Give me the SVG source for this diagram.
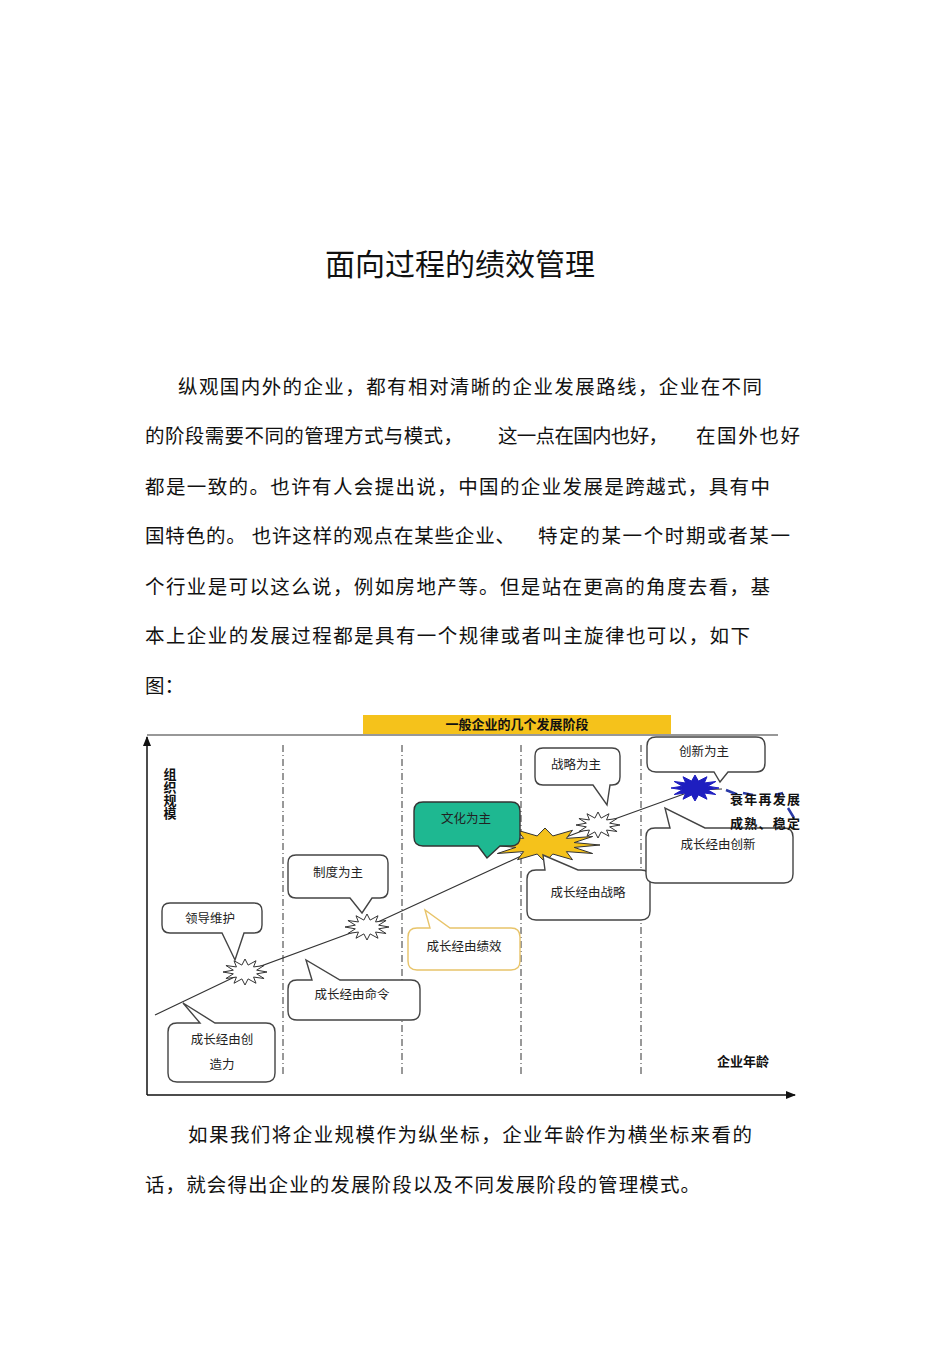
<svg xmlns="http://www.w3.org/2000/svg" width="950" height="1345" viewBox="0 0 950 1345">
<style>
.p{font-family:"Noto Sans CJK SC","Liberation Sans",sans-serif;font-size:19.5px;fill:#111}
.c{font-family:"Noto Sans CJK SC",sans-serif;font-size:12.5px;fill:#222;text-anchor:middle}
.b{font-family:"Noto Sans CJK SC",sans-serif;font-size:13px;font-weight:bold;fill:#111}
.call{fill:#fff;stroke:#444;stroke-width:1.4}
.dash{stroke:#333;stroke-width:1;stroke-dasharray:7 3 1 3}
</style>
<defs>
<polygon id="star" vector-effect="non-scaling-stroke" stroke-width="1" points="1,0 .531,.142 .866,.5 .389,.389 .5,.866 .142,.531 0,1 -.142,.531 -.5,.866 -.389,.389 -.866,.5 -.531,.142 -1,0 -.531,-.142 -.866,-.5 -.389,-.389 -.5,-.866 -.142,-.531 0,-1 .142,-.531 .5,-.866 .389,-.389 .866,-.5 .531,-.142"/>
<marker id="ah" markerWidth="10" markerHeight="8" refX="9" refY="4" orient="auto" markerUnits="userSpaceOnUse"><path d="M0,0 L10,4 L0,8 Z" fill="#111"/></marker>
</defs>
<rect width="950" height="1345" fill="#fff"/>
<text x="460" y="275" text-anchor="middle" font-family="Noto Sans CJK SC,sans-serif" font-size="30" fill="#111">面向过程的绩效管理</text>
<g id="para1">
<text class="p" x="178" y="394" textLength="584">纵观国内外的企业，都有相对清晰的企业发展路线，企业在不同</text>
<text class="p" x="145" y="443" textLength="318">的阶段需要不同的管理方式与模式，</text>
<text class="p" x="498" y="443" textLength="170">这一点在国内也好，</text>
<text class="p" x="696" y="443" textLength="104">在国外也好</text>
<text class="p" x="145" y="494" textLength="625">都是一致的。也许有人会提出说，中国的企业发展是跨越式，具有中</text>
<text class="p" x="145" y="543" textLength="370">国特色的。 也许这样的观点在某些企业、</text>
<text class="p" x="538" y="543" textLength="252">特定的某一个时期或者某一</text>
<text class="p" x="145" y="594" textLength="625">个行业是可以这么说，例如房地产等。但是站在更高的角度去看，基</text>
<text class="p" x="145" y="643" textLength="605">本上企业的发展过程都是具有一个规律或者叫主旋律也可以，如下</text>
<text class="p" x="145" y="693">图：</text>
</g>
<g id="chart-frame">
<rect x="363" y="715" width="308" height="19" fill="#f5c21b"/>
<text class="b" x="517" y="729" text-anchor="middle">一般企业的几个发展阶段</text>
<line x1="147" y1="735" x2="778" y2="735" stroke="#333" stroke-width="1.2"/>
<line x1="283" y1="745" x2="283" y2="1075" class="dash"/>
<line x1="402" y1="745" x2="402" y2="1075" class="dash"/>
<line x1="521" y1="745" x2="521" y2="1075" class="dash"/>
<line x1="641" y1="745" x2="641" y2="1075" class="dash"/>
<text class="b" x="170" y="768" writing-mode="vertical-rl" style="writing-mode:vertical-rl">组织规模</text>
<text class="b" x="743" y="1066" text-anchor="middle">企业年龄</text>
</g>
<g id="connectors">
<line x1="147" y1="1095" x2="147" y2="737" stroke="#111" stroke-width="1.5" marker-end="url(#ah)"/>
<line x1="147" y1="1095" x2="795" y2="1095" stroke="#111" stroke-width="1.5" marker-end="url(#ah)"/>
<polyline points="155,1015 245,972 367,927 545,845 598,825 695,790 722,789" fill="none" stroke="#333" stroke-width="1.2"/>
<path d="M726,790 l10,4 M743,793 l10,2 M775,795 l8,-2 M788,808 l6,10" stroke="#2a3aa8" stroke-width="2.5" fill="none"/>
</g>
<g id="stars">
<g transform="translate(245,972) scale(22,13)" fill="#fff" stroke="#333"><use href="#star"/></g>
<g transform="translate(367,927) scale(22,13)" fill="#fff" stroke="#333"><use href="#star"/></g>
<g transform="translate(545,845) scale(55,17)" fill="#f5c21b" stroke="#333"><use href="#star"/></g>
<g transform="translate(598,825) scale(22,13)" fill="#fff" stroke="#333"><use href="#star"/></g>
<g transform="translate(695,788) scale(24,13)" fill="#1e1ec0" stroke="#1e1ec0"><use href="#star"/></g>
</g>
<g id="n-lingdao"><path class="call" d="M170,903 H254 Q262,903 262,911 V925 Q262,933 254,933 H244 L235,960 L222,933 H170 Q162,933 162,925 V911 Q162,903 170,903 Z"/><text class="c" x="210" y="923">领导维护</text></g>
<g id="n-zhidu"><path class="call" d="M296,855 H380 Q388,855 388,863 V890 Q388,898 380,898 H372 L362,913 L350,898 H296 Q288,898 288,890 V863 Q288,855 296,855 Z"/><text class="c" x="338" y="877">制度为主</text></g>
<g id="n-chuangzao"><path class="call" d="M177,1023 H200 L183,1003 L215,1023 H266 Q275,1023 275,1032 V1073 Q275,1082 266,1082 H177 Q168,1082 168,1073 V1032 Q168,1023 177,1023 Z"/><text class="c" x="222" y="1044">成长经由创</text><text class="c" x="222" y="1069">造力</text></g>
<g id="n-mingling"><path class="call" d="M297,980 H312 L306,960 L340,980 H411 Q420,980 420,989 V1011 Q420,1020 411,1020 H297 Q288,1020 288,1011 V989 Q288,980 297,980 Z"/><text class="c" x="352" y="999">成长经由命令</text></g>
<g id="n-jixiao"><path class="call" style="stroke:#e8c46a" d="M417,928 H430 L425,910 L450,928 H511 Q520,928 520,937 V961 Q520,970 511,970 H417 Q408,970 408,961 V937 Q408,928 417,928 Z"/><text class="c" x="464" y="951">成长经由绩效</text></g>
<g id="n-wenhua"><path class="call" style="fill:#1eb891;stroke:#333" d="M423,802 H511 Q520,802 520,811 V837 Q520,846 511,846 H500 L487,858 L478,846 H423 Q414,846 414,837 V811 Q414,802 423,802 Z"/><text class="c" x="466" y="823">文化为主</text></g>
<g id="n-zhanlve"><path class="call" d="M543,748 H612 Q620,748 620,756 V777 Q620,785 612,785 H610 L607,805 L593,785 H543 Q535,785 535,777 V756 Q535,748 543,748 Z"/><text class="c" x="576" y="769">战略为主</text></g>
<g id="n-zhanlve2"><path class="call" d="M536,870 H545 L543,855 L578,870 H641 Q650,870 650,879 V911 Q650,920 641,920 H536 Q527,920 527,911 V879 Q527,870 536,870 Z"/><text class="c" x="588" y="897">成长经由战略</text></g>
<g id="n-chuangxin"><path class="call" d="M656,737 H756 Q765,737 765,746 V763 Q765,772 756,772 H728 L720,782 L714,772 H656 Q647,772 647,763 V746 Q647,737 656,737 Z"/><text class="c" x="704" y="756">创新为主</text></g>
<g id="n-chuangxin2"><path class="call" d="M655,828 H670 L665,808 L705,828 H784 Q793,828 793,837 V874 Q793,883 784,883 H655 Q646,883 646,874 V837 Q646,828 655,828 Z"/><text class="c" x="718" y="849">成长经由创新</text></g>
<g id="n-labels"><text class="b" x="730" y="804" textLength="70">衰年再发展</text><text class="b" x="730" y="828" textLength="70">成熟、稳定</text></g>
<g id="para2">
<text class="p" x="188" y="1142" textLength="564">如果我们将企业规模作为纵坐标，企业年龄作为横坐标来看的</text>
<text class="p" x="145" y="1192" textLength="555">话，就会得出企业的发展阶段以及不同发展阶段的管理模式。</text>
</g>
</svg>
